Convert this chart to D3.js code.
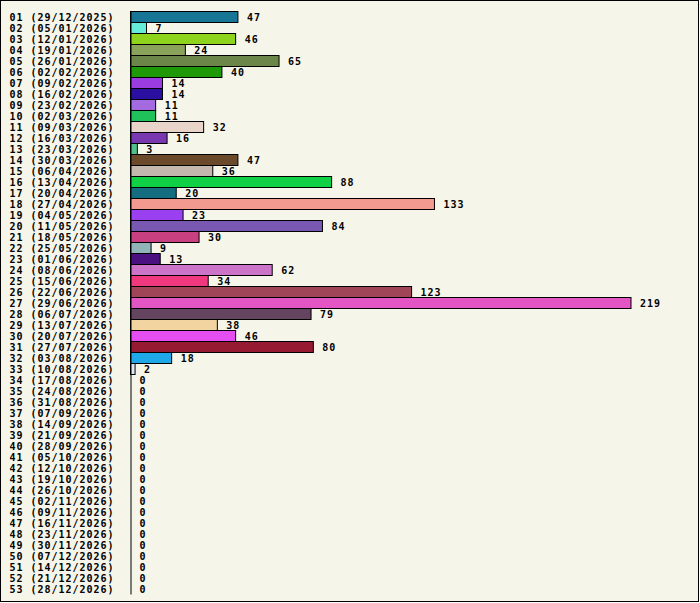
<!DOCTYPE html>
<html>
<head>
<meta charset="utf-8">
<script src="https://cdn.jsdelivr.net/npm/d3@7"></script>
<style>
  body { margin: 0; background: #fff; }
  text { font-family: "DejaVu Sans Mono", monospace; font-weight: bold; font-size: 10px; letter-spacing: 0.98px; }
</style>
</head>
<body>
<div id="chart"></div>
<script>
// 1. Data
const weeks = ["01","02","03","04","05","06","07","08","09","10","11","12","13","14","15","16","17","18",
  "19","20","21","22","23","24","25","26","27","28","29","30","31","32","33","34","35","36",
  "37","38","39","40","41","42","43","44","45","46","47","48","49","50","51","52","53"]

const weekDates = ["29/12/2025","05/01/2026","12/01/2026","19/01/2026","26/01/2026","02/02/2026",
  "09/02/2026","16/02/2026","23/02/2026","02/03/2026","09/03/2026","16/03/2026","23/03/2026",
  "30/03/2026","06/04/2026","13/04/2026","20/04/2026","27/04/2026","04/05/2026","11/05/2026",
  "18/05/2026","25/05/2026","01/06/2026","08/06/2026","15/06/2026","22/06/2026","29/06/2026",
  "06/07/2026","13/07/2026","20/07/2026","27/07/2026","03/08/2026","10/08/2026","17/08/2026",
  "24/08/2026","31/08/2026","07/09/2026","14/09/2026","21/09/2026","28/09/2026","05/10/2026",
  "12/10/2026","19/10/2026","26/10/2026","02/11/2026","09/11/2026","16/11/2026","23/11/2026",
  "30/11/2026","07/12/2026","14/12/2026","21/12/2026","28/12/2026"]

const counts = [47,7,46,24,65,40,14,14,11,11,32,16,3,47,36,88,20,133,23,84,30,9,13,62,34,123,219,
  79,38,46,80,18,2,0,0,0,0,0,0,0,0,0,0,0,0,0,0,0,0,0,0,0,0]

const barColors = ["#177596","#66ecd8","#8ed41c","#8aa35a","#6c8548","#1e9a08","#9a3ce0","#2a0fa0",
  "#a46ae0","#20c05a","#e8d4c8","#7a38b0","#50c088","#6a4a2a","#c4b8ae","#10d045","#156e80",
  "#f29a90","#9a40f0","#7858b0","#c84080","#90b4b8","#4a1080","#cc74c8","#f0387e","#a04458",
  "#e455c4","#64445e","#f2d4a0","#e44ef0","#961a32","#1ea8e8","#dfe8f4",
  "#cccccc","#cccccc","#cccccc","#cccccc","#cccccc","#cccccc","#cccccc","#cccccc","#cccccc",
  "#cccccc","#cccccc","#cccccc","#cccccc","#cccccc","#cccccc","#cccccc","#cccccc","#cccccc",
  "#cccccc","#cccccc"]

const dataset = weeks.map((w, i) => ({
  label: `${w} (${weekDates[i]})`,
  value: counts[i],
  color: barColors[i]
}))

// 2. Dimensions
const width = 700
const height = 603

// 3. Canvas
const svg = d3.select("#chart")
  .append("svg")
    .attr("width", width)
    .attr("height", height)

svg.append("rect")
  .attr("x", 0.5)
  .attr("y", 0.5)
  .attr("width", width - 2)
  .attr("height", height - 2)
  .attr("fill", "#f5f5ea")
  .attr("stroke", "#000")

// 4. Scales
const yScale = d3.scaleBand()
  .domain(dataset.map(d => d.label))
  .range([11, 594])
  .padding(0)

const xScale = d3.scaleLinear()
  .domain([0, 219])
  .range([130.5, 631])

// 5. Bars
svg.append("g")
  .selectAll("rect")
  .data(dataset.filter(d => d.value > 0))
  .join("rect")
    .attr("x", xScale(0))
    .attr("y", d => yScale(d.label) + 0.5)
    .attr("width", d => xScale(d.value) - xScale(0))
    .attr("height", yScale.bandwidth())
    .attr("fill", d => d.color)
    .attr("stroke", "#000")
    .attr("stroke-width", 1)

svg.append("g")
  .selectAll("text")
  .data(dataset)
  .join("text")
    .attr("x", d => xScale(d.value) + 9)
    .attr("y", d => yScale(d.label) + yScale.bandwidth() / 2)
    .attr("dy", "0.4em")
    .attr("fill", "#000")
    .text(d => d.value)

// 6. Axis
const yAxis = svg.append("g")
  .attr("transform", `translate(${xScale(0)},0)`)
  .call(d3.axisLeft(yScale).tickSize(0).tickSizeOuter(0))

yAxis.select(".domain").attr("stroke", "#000")
yAxis.selectAll(".tick text")
  .attr("x", 9.5 - xScale(0))
  .attr("dy", "0.4em")
  .attr("text-anchor", "start")
  .attr("fill", "#000")
  .attr("font-family", null)
  .attr("font-size", null)
</script>
</body>
</html>
